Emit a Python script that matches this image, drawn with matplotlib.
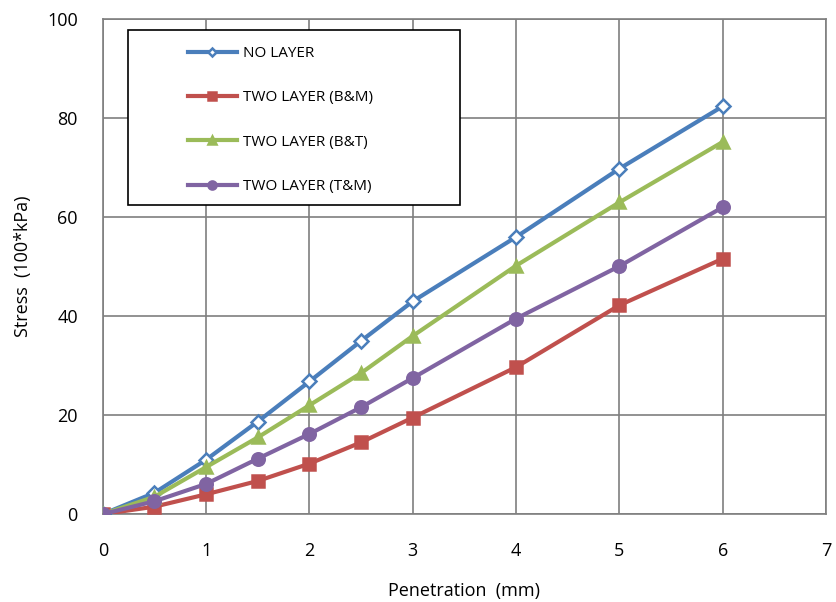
import matplotlib.pyplot as plt
from matplotlib.patches import Rectangle

penetracao = [0, 0.5, 1, 1.5, 2, 2.5, 3, 4, 5, 6]
no_layer = [0, 4.3, 11, 18.7, 26.8, 35, 43, 56, 69.8, 82.4]
bm = [0, 1.5, 4, 6.7, 10.2, 14.5, 19.5, 29.7, 42.2, 51.6]
bt = [0, 3.5, 9.5, 15.5, 22, 28.5, 36, 50.2, 63, 75.2]
tm = [0, 2.6, 6.1, 11.2, 16.2, 21.6, 27.5, 39.5, 50.1, 62]

series = [
    ("NO LAYER", no_layer, "#4A7EBB", "D", "white", 7),
    ("TWO LAYER (B&M)", bm, "#C0504D", "s", "#C0504D", 8),
    ("TWO LAYER (B&T)", bt, "#9BBB59", "^", "#9BBB59", 9),
    ("TWO LAYER (T&M)", tm, "#8064A2", "o", "#8064A2", 9),
]

plt.rcParams['font.family'] = ['Open Sans', 'DejaVu Sans']

fig = plt.figure(figsize=(8.36, 6.02), dpi=100)
ax = fig.add_axes([0.123, 0.146, 0.865, 0.822])

for nome, vals, cor, mk, face, ms in series:
    ax.plot(penetracao, vals, color=cor, lw=3, marker=mk, markersize=ms,
            markerfacecolor=face, markeredgecolor=cor, markeredgewidth=1.8,
            label=nome, zorder=3)

ax.set_xlim(0, 7)
ax.set_ylim(0, 100)
ax.set_xticks(range(0, 8))
ax.set_yticks(range(0, 101, 20))
ax.grid(True, color="#7f7f7f", lw=1.2)
ax.set_axisbelow(True)
for s in ax.spines.values():
    s.set_color("#7f7f7f")
    s.set_linewidth(1.2)
ax.tick_params(axis="x", length=0, pad=20, labelsize=13)
ax.tick_params(axis="y", length=0, pad=18, labelsize=13)
ax.set_xlabel("Penetration  (mm)", fontsize=13, labelpad=16)
ax.set_ylabel("Stress  (100*kPa)", fontsize=13, labelpad=10.5)

# caixa da legenda
caixa = Rectangle((0.0343, 0.624), 0.459, 0.354, transform=ax.transAxes,
                  facecolor="white", edgecolor="black", lw=1.2, zorder=4)
ax.add_patch(caixa)

leg = ax.legend(loc="upper left", bbox_to_anchor=(0.1176, 0.946), fontsize=11,
                frameon=False, borderpad=0, labelspacing=1.92,
                handlelength=3.2, handletextpad=0.4, borderaxespad=0,
                markerscale=0.65)
leg.set_zorder(5)

plt.savefig("out.png", dpi=100)
